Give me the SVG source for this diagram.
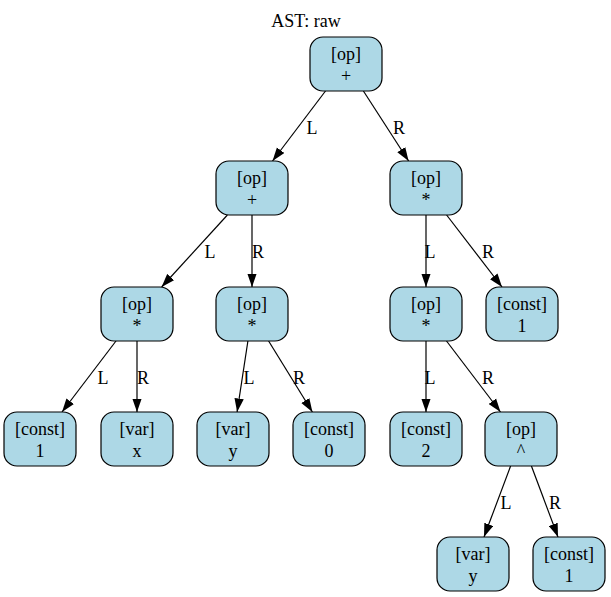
<svg xmlns="http://www.w3.org/2000/svg" width="611" height="597" viewBox="0 0 611 597">
<style>
text{font-family:"Liberation Serif","Times New Roman","DejaVu Serif",serif;font-size:18px;fill:#000;text-anchor:middle}
.n rect{fill:#add8e6;stroke:#000;stroke-width:1.2}
.e line{stroke:#000;stroke-width:1.2;marker-end:url(#a)}
</style>
<defs>
<marker id="a" markerUnits="userSpaceOnUse" markerWidth="14" markerHeight="10" refX="13.5" refY="5" orient="auto"><path d="M0,0.3L13.5,5L0,9.7z" fill="#000"/></marker>
</defs>
<rect width="611" height="597" fill="#fff"/>
<text x="306" y="27">AST: raw</text>
<g class="e">
<line x1="325.5" y1="91" x2="272.5" y2="161"/>
<line x1="363.4" y1="91" x2="408.6" y2="161"/>
<line x1="227.4" y1="215" x2="161.6" y2="287"/>
<line x1="252" y1="215" x2="252" y2="287"/>
<line x1="426" y1="215" x2="426" y2="287"/>
<line x1="446.6" y1="215" x2="502" y2="287"/>
<line x1="116" y1="341" x2="62" y2="412"/>
<line x1="137" y1="341" x2="137" y2="412"/>
<line x1="247.9" y1="341" x2="237.1" y2="412"/>
<line x1="268.6" y1="341" x2="312.4" y2="412"/>
<line x1="426" y1="341" x2="426" y2="412"/>
<line x1="446.5" y1="341" x2="500.5" y2="412"/>
<line x1="510.6" y1="466" x2="484" y2="537"/>
<line x1="531.4" y1="466" x2="558" y2="537"/>
<text x="312" y="134">L</text>
<text x="399" y="134">R</text>
<text x="210" y="258">L</text>
<text x="258" y="258">R</text>
<text x="430" y="258">L</text>
<text x="488" y="258">R</text>
<text x="103" y="384">L</text>
<text x="143" y="384">R</text>
<text x="249" y="384">L</text>
<text x="299" y="384">R</text>
<text x="430" y="384">L</text>
<text x="488" y="384">R</text>
<text x="506" y="509">L</text>
<text x="555" y="509">R</text>
</g>
<g id="n0" class="n"><rect x="310" y="37" width="72" height="54" rx="13"/><text x="346" y="60">[op]</text><text x="346" y="81.5">+</text></g>
<g id="n1" class="n"><rect x="216" y="161" width="72" height="54" rx="13"/><text x="252" y="184">[op]</text><text x="252" y="205.5">+</text></g>
<g id="n2" class="n"><rect x="390" y="161" width="72" height="54" rx="13"/><text x="426" y="184">[op]</text><text x="426" y="205.5">*</text></g>
<g id="n3" class="n"><rect x="101" y="287" width="72" height="54" rx="13"/><text x="137" y="310">[op]</text><text x="137" y="331.5">*</text></g>
<g id="n4" class="n"><rect x="216" y="287" width="72" height="54" rx="13"/><text x="252" y="310">[op]</text><text x="252" y="331.5">*</text></g>
<g id="n5" class="n"><rect x="390" y="287" width="72" height="54" rx="13"/><text x="426" y="310">[op]</text><text x="426" y="331.5">*</text></g>
<g id="n6" class="n"><rect x="486" y="287" width="72" height="54" rx="13"/><text x="522" y="310">[const]</text><text x="522" y="331.5">1</text></g>
<g id="n7" class="n"><rect x="4" y="412" width="72" height="54" rx="13"/><text x="40" y="435">[const]</text><text x="40" y="456.5">1</text></g>
<g id="n8" class="n"><rect x="101" y="412" width="72" height="54" rx="13"/><text x="137" y="435">[var]</text><text x="137" y="456.5">x</text></g>
<g id="n9" class="n"><rect x="197" y="412" width="72" height="54" rx="13"/><text x="233" y="435">[var]</text><text x="233" y="456.5">y</text></g>
<g id="n10" class="n"><rect x="293" y="412" width="72" height="54" rx="13"/><text x="329" y="435">[const]</text><text x="329" y="456.5">0</text></g>
<g id="n11" class="n"><rect x="390" y="412" width="72" height="54" rx="13"/><text x="426" y="435">[const]</text><text x="426" y="456.5">2</text></g>
<g id="n12" class="n"><rect x="485" y="412" width="72" height="54" rx="13"/><text x="521" y="435">[op]</text><text x="521" y="456.5">^</text></g>
<g id="n13" class="n"><rect x="437" y="537" width="72" height="54" rx="13"/><text x="473" y="560">[var]</text><text x="473" y="581.5">y</text></g>
<g id="n14" class="n"><rect x="533" y="537" width="72" height="54" rx="13"/><text x="569" y="560">[const]</text><text x="569" y="581.5">1</text></g>
</svg>
